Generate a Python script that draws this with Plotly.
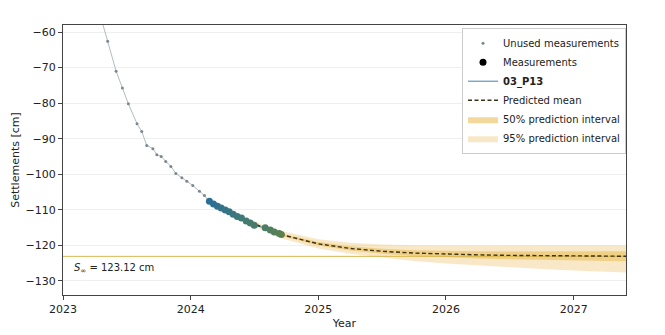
import plotly.graph_objects as go

# Unused measurements (year, settlement cm)
unused_years = [2023.29, 2023.35, 2023.416, 2023.465, 2023.512, 2023.58, 2023.617, 2023.656,
                2023.704, 2023.735, 2023.769, 2023.805, 2023.845, 2023.884, 2023.931, 2023.97,
                2024.017, 2024.069, 2024.108, 2024.147]
unused_vals = [-55.0, -62.6, -71.0, -75.7, -80.2, -85.8, -88.0, -91.9,
               -92.8, -94.5, -95.0, -96.4, -97.8, -99.8, -101.0, -102.0,
               -103.2, -104.8, -106.0, -107.8]

# Measurements used for the fit
meas_years = [2024.147, 2024.179, 2024.210, 2024.239, 2024.271, 2024.302, 2024.333, 2024.365,
              2024.398, 2024.435, 2024.467, 2024.498, 2024.584, 2024.624, 2024.655, 2024.694, 2024.71]
meas_vals = [-107.6, -108.4, -109.0, -109.5, -110.1, -110.6, -111.3, -111.9,
             -112.3, -113.2, -113.7, -114.4, -115.1, -115.7, -116.3, -116.7, -117.0]

# Prediction
pred_years = [2024.15, 2024.45, 2024.71, 2025.0, 2025.25, 2025.5, 2025.75, 2026.0,
              2026.25, 2026.5, 2026.75, 2027.0, 2027.25, 2027.45]
pred_mean = [-107.8, -113.3, -117.0, -119.6, -120.9, -121.7, -122.2, -122.5,
             -122.7, -122.85, -122.95, -123.0, -123.05, -123.1]
p50_lo = [-107.9, -113.5, -117.3, -120.1, -121.5, -122.4, -123.0, -123.4,
          -123.7, -123.95, -124.15, -124.3, -124.35, -124.5]
p50_hi = [-107.7, -113.1, -116.7, -119.1, -120.3, -121.0, -121.4, -121.6,
          -121.7, -121.75, -121.75, -121.7, -121.75, -121.7]
p95_lo = [-108.0, -113.9, -118.0, -120.9, -122.4, -123.5, -124.4, -125.1,
          -125.7, -126.2, -126.7, -127.1, -127.4, -127.7]
p95_hi = [-107.6, -112.7, -116.0, -118.3, -119.3, -119.8, -120.0, -120.1,
          -120.1, -120.1, -120.0, -120.0, -120.0, -120.0]

s_inf = -123.12
x_ticks = [2023, 2024, 2025, 2026, 2027]
y_ticks = [-60, -70, -80, -90, -100, -110, -120, -130]

FONT = "DejaVu Sans"
fig = go.Figure()

# 95% band
fig.add_trace(go.Scatter(x=pred_years, y=p95_hi, mode="lines", line=dict(width=0),
                         showlegend=False, hoverinfo="skip"))
fig.add_trace(go.Scatter(x=pred_years, y=p95_lo, mode="lines", line=dict(width=0),
                         fill="tonexty", fillcolor="rgba(240,205,130,0.45)",
                         name="95% prediction interval", legendrank=6))
# 50% band
fig.add_trace(go.Scatter(x=pred_years, y=p50_hi, mode="lines", line=dict(width=0),
                         showlegend=False, hoverinfo="skip"))
fig.add_trace(go.Scatter(x=pred_years, y=p50_lo, mode="lines", line=dict(width=0),
                         fill="tonexty", fillcolor="rgba(235,190,90,0.6)",
                         name="50% prediction interval", legendrank=5))

# S_inf line
fig.add_trace(go.Scatter(x=[2022.5, 2028], y=[s_inf, s_inf], mode="lines",
                         line=dict(color="#d9b64e", width=1), showlegend=False, hoverinfo="skip"))

# Unused measurements
fig.add_trace(go.Scatter(x=unused_years, y=unused_vals, mode="lines+markers",
                         line=dict(color="#b3bcc2", width=1),
                         marker=dict(color="#7d8790", size=3),
                         name="Unused measurements", legendrank=1, showlegend=False))
fig.add_trace(go.Scatter(x=[None], y=[None], mode="markers",
                         marker=dict(color="#7d8790", size=3),
                         name="Unused measurements", legendrank=1))

# 03_P13 line
fig.add_trace(go.Scatter(x=meas_years, y=meas_vals, mode="lines",
                         line=dict(color="#3b86b0", width=1),
                         name="<b>03_P13</b>", legendrank=3))

# Predicted mean
fig.add_trace(go.Scatter(x=pred_years, y=pred_mean, mode="lines",
                         line=dict(color="#3a3218", width=1.4, dash="4px,2.5px"),
                         name="Predicted mean", legendrank=4))

# Measurements
fig.add_trace(go.Scatter(x=meas_years, y=meas_vals, mode="markers",
                         marker=dict(size=7, color=list(range(len(meas_years))),
                                     colorscale=[[0, "#2a6d97"], [0.5, "#3f7a78"], [1, "#5a8050"]],
                                     line=dict(width=0)),
                         showlegend=False, hoverinfo="skip"))
fig.add_trace(go.Scatter(x=[None], y=[None], mode="markers",
                         marker=dict(size=7, color="black"),
                         name="Measurements", legendrank=2))

fig.add_annotation(x=2023.07, y=-126.4, xref="x", yref="y", xanchor="left", yanchor="middle",
                   text="<i>S</i><sub>∞</sub> = 123.12 cm", showarrow=False,
                   font=dict(family=FONT, size=10, color="#222"))

# The page body adds an 8px offset, so the figure is sized to fit the 665x335 window.
fig.update_layout(
    width=657, height=327,
    margin=dict(l=55, r=39, t=17, b=40, autoexpand=False),
    paper_bgcolor="white", plot_bgcolor="white",
    font=dict(family=FONT, size=11, color="#222"),
    legend=dict(x=1.0, y=0.99, xanchor="right", yanchor="top",
                bgcolor="rgba(255,255,255,0.9)", bordercolor="#cccccc", borderwidth=1,
                font=dict(size=10), tracegroupgap=0, itemwidth=30,
                traceorder="normal"),
    xaxis=dict(range=[2023, 2027.41], tickvals=x_ticks, ticktext=[str(v) for v in x_ticks],
               showgrid=False, zeroline=False, showline=True, linecolor="#444", linewidth=1,
               mirror=True, ticks="outside", ticklen=4, tickcolor="#444", automargin=False,
               title=dict(text="Year", standoff=4, font=dict(size=11))),
    yaxis=dict(range=[-134, -58], tickvals=y_ticks, ticktext=[f"−{abs(v)}" for v in y_ticks],
               showgrid=True, gridcolor="#efefef", gridwidth=1, zeroline=False,
               showline=True, linecolor="#444", linewidth=1, mirror=True, automargin=False,
               ticks="outside", ticklen=4, tickcolor="#444",
               title=dict(text="Settlements [cm]", standoff=3, font=dict(size=11))),
)

fig.write_html("out.html")
